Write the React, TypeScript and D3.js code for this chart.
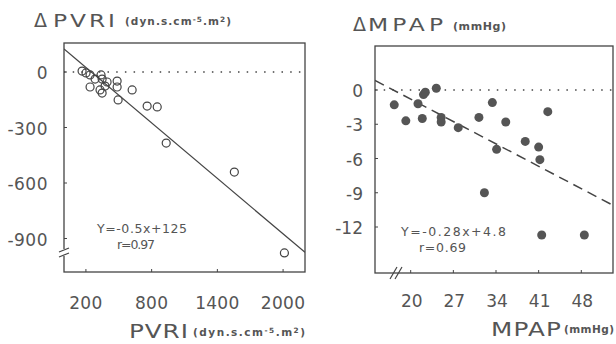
import React from "react";
import * as d3 from "d3";

const pvriX = [165, 201, 238, 238, 284, 338, 348, 329, 348, 375, 393, 485, 485, 494, 622, 759, 851, 933, 1555, 2012];
const pvriY = [5, -5, -16, -81, -38, -16, -38, -97, -114, -76, -54, -49, -81, -151, -97, -184, -189, -384, -541, -978];
const mpapX = [17.3, 19.2, 21.2, 21.9, 22.1, 22.4, 24.2, 25.0, 25.0, 27.8, 31.2, 33.4, 34.1, 35.6, 38.8, 41.0, 41.2, 42.5, 32.1, 41.5, 48.5];
const mpapY = [-1.3, -2.7, -1.2, -2.5, -0.4, -0.2, 0.15, -2.4, -2.8, -3.3, -2.4, -1.1, -5.2, -2.8, -4.5, -5.0, -6.1, -1.9, -9.0, -12.7, -12.7];
const leftXTicks = [200, 800, 1400, 2000];
const leftYTicks = [0, -300, -600, -900];
const rightXTicks = [20, 27, 34, 41, 48];
const rightYTicks = [0, -3, -6, -9, -12];
const leftFit = { slope: -0.5, intercept: 125 };
const rightFit = { slope: -0.28, intercept: 4.8 };

const INK = "#444";
const TXT = "#555";
const FONT = "DejaVu Sans, Verdana, sans-serif";
const SX = 1.3;

function Wide({ x, y, size, len, children }: { x: number; y: number; size: number; len: number; children: React.ReactNode }) {
  return (
    <text transform={`translate(${x},${y}) scale(${SX},1)`} fontSize={size} fill={TXT} textLength={len / SX} lengthAdjust="spacing">
      {children}
    </text>
  );
}

function Units({ x, y, size, len }: { x: number; y: number; size: number; len: number }) {
  return (
    <text x={x} y={y} fontSize={size} fontWeight="bold" fill={TXT} textLength={len} lengthAdjust="spacing">
      <tspan>(dyn.s.cm</tspan>
      <tspan dy={-3} fontSize={size * 0.7}>-5</tspan>
      <tspan dy={3}>.m</tspan>
      <tspan dy={-3} fontSize={size * 0.7}>2</tspan>
      <tspan dy={3}>)</tspan>
    </text>
  );
}

export default function App() {
  const lx = d3.scaleLinear().domain([0, 2200]).range([64, 305]);
  const ly = d3.scaleLinear().domain([0, -900]).range([72, 238.5]);
  const rx = d3.scaleLinear().domain([20, 48]).range([410.7, 581.3]);
  const ry = d3.scaleLinear().domain([0, -12]).range([90, 227]);
  const L = { l: 64, r: 305, t: 43, b: 272 };
  const R = { l: 375, r: 613, t: 46, b: 273 };
  const lLine = d3.line<number>().x((d) => lx(d)).y((d) => ly(leftFit.slope * d + leftFit.intercept));
  const rLine = d3.line<number>().x((d) => rx(d)).y((d) => ry(rightFit.slope * d + rightFit.intercept));
  const rx0 = rx.invert(R.l);
  const rx1 = rx.invert(R.r);

  return (
    <svg width={616} height={344} style={{ position: "absolute", left: 0, top: 0, background: "#fff" }} fontFamily={FONT}>
      <rect width={616} height={344} fill="#fff" />
      {/* Left panel */}
      <text x={34} y={27} fontSize={19} fill={TXT}>Δ</text>
      <Wide x={53} y={27} size={18} len={62}>PVRI</Wide>
      <Units x={125} y={25} size={10.5} len={106} />
      <rect x={L.l} y={L.t} width={L.r - L.l} height={L.b - L.t} fill="none" stroke={INK} strokeWidth={1.3} />
      <line x1={L.l} x2={L.r} y1={ly(0)} y2={ly(0)} stroke={INK} strokeWidth={1.5} strokeDasharray="1.5,7.2" />
      {leftYTicks.map((t) => (
        <g key={"ly" + t}>
          <line x1={L.l} x2={L.l + 3} y1={ly(t)} y2={ly(t)} stroke={INK} />
          <text x={48} y={ly(t) + 7} fontSize={17} fill={TXT} textAnchor="end" letterSpacing={0.5}>{t}</text>
        </g>
      ))}
      {leftXTicks.map((t) => (
        <g key={"lx" + t}>
          <line x1={lx(t)} x2={lx(t)} y1={L.b} y2={L.b - 3} stroke={INK} />
          <text x={lx(t)} y={309} fontSize={17} fill={TXT} textAnchor="middle" letterSpacing={0.3}>{t}</text>
        </g>
      ))}
      <rect x={58} y={249} width={12} height={7} fill="#fff" />
      <line x1={59} x2={69} y1={252} y2={248} stroke={INK} strokeWidth={1.2} />
      <line x1={59} x2={69} y1={257} y2={253} stroke={INK} strokeWidth={1.2} />
      <clipPath id="clipL"><rect x={L.l} y={L.t} width={L.r - L.l} height={L.b - L.t} /></clipPath>
      <path d={lLine([0, 2200]) || ""} stroke={INK} strokeWidth={1.3} fill="none" clipPath="url(#clipL)" />
      {pvriX.map((x, i) => (
        <circle key={"lp" + i} cx={lx(x)} cy={ly(pvriY[i])} r={4} fill="none" stroke={INK} strokeWidth={1.2} />
      ))}
      <text x={97} y={233} fontSize={12.5} fill={TXT} textLength={90} lengthAdjust="spacing">Y=-0.5x+125</text>
      <text x={117} y={249} fontSize={12.5} fill={TXT} textLength={38} lengthAdjust="spacing">r=0.97</text>
      <Wide x={129} y={338} size={19} len={59}>PVRI</Wide>
      <Units x={193} y={336} size={10.5} len={112} />

      {/* Right panel */}
      <text x={353} y={31} fontSize={19} fill={TXT}>Δ</text>
      <Wide x={368} y={31} size={18} len={75}>MPAP</Wide>
      <text x={453} y={30} fontSize={11} fontWeight="bold" fill={TXT} textLength={53} lengthAdjust="spacing">(mmHg)</text>
      <rect x={R.l} y={R.t} width={R.r - R.l} height={R.b - R.t} fill="none" stroke={INK} strokeWidth={1.3} />
      <line x1={R.l} x2={R.r} y1={ry(0)} y2={ry(0)} stroke={INK} strokeWidth={1.5} strokeDasharray="1.5,7.2" />
      {rightYTicks.map((t) => (
        <g key={"ry" + t}>
          <line x1={R.l} x2={R.l + 3} y1={ry(t)} y2={ry(t)} stroke={INK} />
          <text x={363} y={ry(t) + 7} fontSize={17} fill={TXT} textAnchor="end">{t}</text>
        </g>
      ))}
      {rightXTicks.map((t) => (
        <g key={"rx" + t}>
          <line x1={rx(t)} x2={rx(t)} y1={R.b} y2={R.b - 3} stroke={INK} />
          <text x={rx(t) + 1} y={307} fontSize={17} fill={TXT} textAnchor="middle">{t}</text>
        </g>
      ))}
      <line x1={390} x2={397} y1={279} y2={267} stroke={INK} strokeWidth={1.2} />
      <line x1={395} x2={402} y1={279} y2={267} stroke={INK} strokeWidth={1.2} />
      <clipPath id="clipR"><rect x={R.l} y={R.t} width={R.r - R.l} height={R.b - R.t} /></clipPath>
      <path d={rLine([rx0, rx1]) || ""} stroke={INK} strokeWidth={1.5} fill="none" strokeDasharray="10,6" clipPath="url(#clipR)" />
      {mpapX.map((x, i) => (
        <circle key={"rp" + i} cx={rx(x)} cy={ry(mpapY[i])} r={4.5} fill="#555" />
      ))}
      <text x={401} y={236} fontSize={12.5} fill={TXT} textLength={105} lengthAdjust="spacing">Y=-0.28x+4.8</text>
      <text x={419} y={252} fontSize={12.5} fill={TXT} textLength={47} lengthAdjust="spacing">r=0.69</text>
      <Wide x={491} y={336} size={19} len={70}>MPAP</Wide>
      <text x={564} y={333} fontSize={10.5} fontWeight="bold" fill={TXT} textLength={50} lengthAdjust="spacing">(mmHg)</text>
    </svg>
  );
}
